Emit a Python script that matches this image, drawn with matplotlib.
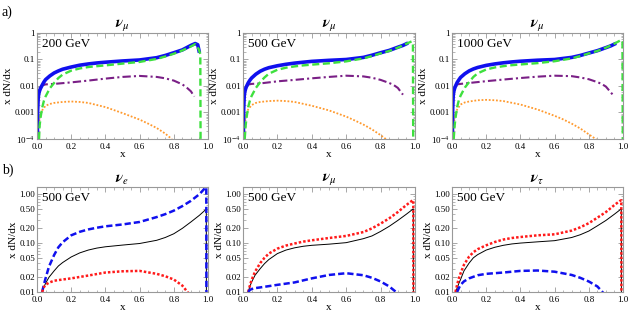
import numpy as np
import matplotlib.pyplot as plt
from matplotlib.ticker import FixedLocator, FixedFormatter, MultipleLocator, LogLocator, NullFormatter

plt.rcParams['font.family'] = ['Liberation Serif', 'DejaVu Serif']
plt.rcParams['mathtext.fontset'] = 'stix'

# ---- panel a) nu_mu spectra at 3 energies ----
energies = ['200 GeV', '500 GeV', '1000 GeV']

# 200 GeV
b1_x = [0.002, 0.004, 0.007, 0.01, 0.015, 0.02, 0.03, 0.04, 0.05, 0.075, 0.1, 0.125, 0.15, 0.2, 0.25, 0.3, 0.35,
        0.4, 0.5, 0.6, 0.7, 0.75, 0.8, 0.85, 0.9, 0.925, 0.94, 0.95]
b1_y = [1e-4, 0.0012, 0.0035, 0.005, 0.0066, 0.008, 0.0107, 0.014, 0.0174, 0.024, 0.031, 0.037, 0.043, 0.052, 0.061,
        0.068, 0.074, 0.079, 0.088, 0.096, 0.117, 0.142, 0.18, 0.23, 0.34, 0.40, 0.36, 0.18]
g1_x = [0.012, 0.015, 0.02, 0.03, 0.04, 0.05, 0.075, 0.1, 0.125, 0.15, 0.2, 0.25, 0.3, 0.35, 0.4, 0.5, 0.6, 0.7,
        0.75, 0.8, 0.85, 0.9, 0.925, 0.945, 0.955, 0.957]
g1_y = [1e-4, 0.0003, 0.0006, 0.0015, 0.0027, 0.004, 0.0082, 0.013, 0.02, 0.027, 0.038, 0.046, 0.052, 0.056, 0.06,
        0.07, 0.081, 0.105, 0.13, 0.165, 0.22, 0.31, 0.38, 0.25, 0.16, 1e-5]
p1_x = [0.02, 0.03, 0.05, 0.1, 0.2, 0.3, 0.4, 0.5, 0.6, 0.7, 0.75, 0.8, 0.85, 0.875, 0.9, 0.92]
p1_y = [0.009, 0.0105, 0.0115, 0.012, 0.0137, 0.016, 0.019, 0.022, 0.024, 0.022, 0.0195, 0.016, 0.0115, 0.0088,
        0.0063, 0.004]
o1_x = [0.005, 0.01, 0.015, 0.02, 0.03, 0.05, 0.075, 0.1, 0.15, 0.2, 0.25, 0.3, 0.4, 0.5, 0.6, 0.65, 0.7, 0.75,
        0.78, 0.8]
o1_y = [1e-4, 0.0004, 0.0006, 0.0008, 0.0012, 0.0018, 0.0021, 0.0023, 0.0025, 0.0026, 0.0025, 0.0023, 0.0016,
        0.00095, 0.00054, 0.00038, 0.00026, 0.00016, 0.00011, 0.00008]

# 500 GeV
b2_x = [0.002, 0.004, 0.007, 0.01, 0.015, 0.02, 0.03, 0.04, 0.05, 0.075, 0.1, 0.125, 0.15, 0.2, 0.25, 0.3, 0.35,
        0.4, 0.5, 0.6, 0.7, 0.75, 0.8, 0.85, 0.9, 0.93, 0.96]
b2_y = [1e-4, 0.0013, 0.004, 0.0058, 0.0078, 0.0095, 0.013, 0.0165, 0.02, 0.028, 0.036, 0.043, 0.049, 0.058, 0.066,
        0.073, 0.079, 0.085, 0.093, 0.1, 0.12, 0.145, 0.18, 0.22, 0.29, 0.34, 0.42]
g2_x = [0.01, 0.015, 0.02, 0.03, 0.04, 0.05, 0.075, 0.1, 0.125, 0.15, 0.2, 0.25, 0.3, 0.35, 0.4, 0.5, 0.6, 0.7,
        0.75, 0.8, 0.85, 0.9, 0.93, 0.96, 0.98, 0.988, 0.99]
g2_y = [1e-4, 0.0003, 0.0006, 0.0016, 0.0028, 0.0042, 0.0085, 0.014, 0.021, 0.029, 0.041, 0.049, 0.055, 0.06, 0.064,
        0.072, 0.085, 0.11, 0.135, 0.17, 0.21, 0.28, 0.34, 0.42, 0.48, 0.4, 1e-5]
p2_x = [0.02, 0.03, 0.05, 0.1, 0.2, 0.3, 0.4, 0.5, 0.6, 0.7, 0.75, 0.8, 0.85, 0.875, 0.9, 0.93]
p2_y = [0.01, 0.0113, 0.012, 0.0125, 0.015, 0.017, 0.0195, 0.022, 0.0245, 0.023, 0.0205, 0.017, 0.013, 0.011,
        0.0085, 0.0047]
o2_x = [0.005, 0.01, 0.015, 0.02, 0.03, 0.05, 0.075, 0.1, 0.15, 0.2, 0.25, 0.3, 0.4, 0.5, 0.6, 0.65, 0.7, 0.75,
        0.8, 0.83, 0.85]
o2_y = [1e-4, 0.0004, 0.0007, 0.0009, 0.0013, 0.0019, 0.0023, 0.0025, 0.0027, 0.0028, 0.0027, 0.0025, 0.0018,
        0.0012, 0.0007, 0.0005, 0.00035, 0.00023, 0.00014, 1e-4, 0.00008]

# 1000 GeV
b3_x = [0.002, 0.004, 0.007, 0.01, 0.015, 0.02, 0.03, 0.04, 0.05, 0.075, 0.1, 0.125, 0.15, 0.2, 0.25, 0.3, 0.35,
        0.4, 0.5, 0.6, 0.7, 0.75, 0.8, 0.85, 0.9, 0.93, 0.96]
b3_y = [1e-4, 0.0014, 0.0042, 0.006, 0.008, 0.0098, 0.0135, 0.017, 0.021, 0.029, 0.037, 0.044, 0.05, 0.06, 0.068,
        0.075, 0.081, 0.086, 0.094, 0.1, 0.12, 0.142, 0.175, 0.215, 0.28, 0.33, 0.41]
g3_x = [0.01, 0.015, 0.02, 0.03, 0.04, 0.05, 0.075, 0.1, 0.125, 0.15, 0.2, 0.25, 0.3, 0.35, 0.4, 0.5, 0.6, 0.7,
        0.75, 0.8, 0.85, 0.9, 0.93, 0.96, 0.99, 0.997, 0.999]
g3_y = [1e-4, 0.0003, 0.0006, 0.0016, 0.0029, 0.0043, 0.0087, 0.014, 0.022, 0.03, 0.042, 0.05, 0.056, 0.061, 0.065,
        0.073, 0.086, 0.11, 0.135, 0.17, 0.21, 0.28, 0.34, 0.43, 0.55, 0.45, 1e-5]
p3_x = [0.02, 0.03, 0.05, 0.1, 0.2, 0.3, 0.4, 0.5, 0.6, 0.7, 0.75, 0.8, 0.85, 0.875, 0.9, 0.94]
p3_y = [0.01, 0.0115, 0.012, 0.013, 0.0152, 0.0175, 0.02, 0.0225, 0.0245, 0.0235, 0.021, 0.018, 0.014, 0.012,
        0.0095, 0.0047]
o3_x = [0.005, 0.01, 0.015, 0.02, 0.03, 0.05, 0.075, 0.1, 0.15, 0.2, 0.25, 0.3, 0.4, 0.5, 0.6, 0.65, 0.7, 0.75,
        0.8, 0.84, 0.86]
o3_y = [1e-4, 0.0004, 0.0007, 0.0009, 0.0013, 0.002, 0.0024, 0.0026, 0.0029, 0.003, 0.0029, 0.0027, 0.002, 0.0013,
        0.00075, 0.00055, 0.00038, 0.00025, 0.00015, 1e-4, 0.00008]

# ---- panel b) 500 GeV, three flavours ----
flavours = [r'$\boldsymbol{\nu}_{e}$', r'$\boldsymbol{\nu}_{\mu}$', r'$\boldsymbol{\nu}_{\tau}$']
xb = [0.03, 0.04, 0.05, 0.07, 0.1, 0.125, 0.15, 0.2, 0.25, 0.3, 0.35, 0.4, 0.5, 0.6, 0.7, 0.75, 0.8, 0.85, 0.9,
      0.95, 0.98, 0.99, 0.991]

blk_e = [0.01, 0.0125, 0.015, 0.02, 0.027, 0.034, 0.04, 0.052, 0.063, 0.072, 0.079, 0.084, 0.091, 0.098, 0.114,
         0.13, 0.155, 0.2, 0.27, 0.37, 0.46, 0.5, 1e-3]
blu_e = [0.01, 0.014, 0.019, 0.033, 0.057, 0.082, 0.104, 0.144, 0.17, 0.19, 0.206, 0.22, 0.24, 0.27, 0.34, 0.39,
         0.46, 0.57, 0.73, 1.0, 1.3, 1.38, 1e-3]
red_e_x = [0.03, 0.04, 0.05, 0.07, 0.1, 0.15, 0.2, 0.3, 0.4, 0.5, 0.6, 0.7, 0.75, 0.8, 0.85, 0.88, 0.9]
red_e = [0.01, 0.0125, 0.014, 0.0155, 0.017, 0.018, 0.019, 0.0217, 0.025, 0.0265, 0.027, 0.0235, 0.021, 0.018,
         0.0135, 0.01, 0.008]

blk_m = [0.01, 0.013, 0.016, 0.022, 0.03, 0.038, 0.046, 0.061, 0.072, 0.08, 0.086, 0.09, 0.095, 0.102, 0.123, 0.14,
         0.173, 0.22, 0.29, 0.39, 0.47, 0.5, 1e-3]
red_m = [0.01, 0.0135, 0.0177, 0.026, 0.039, 0.05, 0.061, 0.077, 0.089, 0.098, 0.107, 0.114, 0.127, 0.14, 0.168,
         0.2, 0.25, 0.32, 0.43, 0.6, 0.72, 0.75, 1e-3]
blu_m_x = [0.03, 0.04, 0.05, 0.07, 0.1, 0.2, 0.3, 0.4, 0.5, 0.6, 0.7, 0.75, 0.8, 0.85, 0.89, 0.91]
blu_m = [0.01, 0.011, 0.0115, 0.012, 0.0124, 0.014, 0.0157, 0.019, 0.0223, 0.0242, 0.022, 0.0195, 0.0164, 0.013,
         0.01, 0.008]

xt = [0.02] + xb
blk_t = [0.01, 0.012, 0.015, 0.018, 0.027, 0.039, 0.05, 0.058, 0.072, 0.082, 0.09, 0.096, 0.1, 0.106, 0.112, 0.13,
         0.148, 0.176, 0.225, 0.29, 0.39, 0.47, 0.5, 1e-3]
red_t = [0.01, 0.014, 0.019, 0.024, 0.036, 0.053, 0.065, 0.075, 0.09, 0.105, 0.118, 0.127, 0.133, 0.144, 0.151,
         0.18, 0.21, 0.255, 0.33, 0.43, 0.6, 0.72, 0.75, 1e-3]
blu_t_x = [0.03, 0.04, 0.05, 0.07, 0.1, 0.15, 0.2, 0.3, 0.4, 0.5, 0.6, 0.7, 0.75, 0.8, 0.85, 0.88, 0.9]
blu_t = [0.01, 0.012, 0.014, 0.0165, 0.019, 0.022, 0.0235, 0.025, 0.027, 0.0275, 0.026, 0.0223, 0.0195, 0.0164,
         0.013, 0.01, 0.008]

BLUE = '#1010ee'
GREEN = '#3ee03e'
PURPLE = '#7a1f86'
ORANGE = '#ff9a2e'
RED = '#ff1a1a'
FRAME = '#999999'


def style_axes(ax):
    for sp in ax.spines.values():
        sp.set_color(FRAME)
        sp.set_linewidth(0.8)
    ax.tick_params(which='both', direction='in', top=True, right=True, color=FRAME,
                   labelsize=6.5)
    ax.tick_params(axis='y', pad=1.5)
    ax.tick_params(axis='x', pad=3)
    ax.tick_params(which='major', length=3.5, width=0.6)
    ax.tick_params(which='minor', length=1.8, width=0.5)
    ax.set_xlim(0, 1)
    ax.xaxis.set_major_locator(MultipleLocator(0.2))
    ax.xaxis.set_minor_locator(MultipleLocator(0.05))
    ax.xaxis.set_major_formatter(plt.FuncFormatter(lambda v, p: f'{v:.1f}'))
    ax.set_xlabel('x', fontsize=8, labelpad=-1)
    ax.set_ylabel('x dN/dx', fontsize=8, labelpad=1)


fig = plt.figure(figsize=(6.36, 3.17), dpi=100)

top_lefts = [37 / 636, 243 / 636, 452 / 636]
w_top = [171 / 636, 172 / 636, 171 / 636]

top_data = [
    (b1_x, b1_y, g1_x, g1_y, p1_x, p1_y, o1_x, o1_y),
    (b2_x, b2_y, g2_x, g2_y, p2_x, p2_y, o2_x, o2_y),
    (b3_x, b3_y, g3_x, g3_y, p3_x, p3_y, o3_x, o3_y),
]

for i in range(3):
    ax = fig.add_axes([top_lefts[i], 1 - 139 / 317, w_top[i], 106 / 317])
    bx, by, gx, gy, px, py, ox, oy = top_data[i]
    ax.set_yscale('log')
    ax.plot(ox, oy, color=ORANGE, lw=1.3, ls=(0, (1, 1)))
    ax.plot(px, py, color=PURPLE, lw=1.5, ls=(0, (4, 1.5, 1, 1.5)))
    ax.plot(bx, by, color=BLUE, lw=2.6, solid_capstyle='butt')
    ax.plot(gx, gy, color=GREEN, lw=1.7, ls=(0, (3, 1.5)))
    ax.set_ylim(1e-4, 1)
    style_axes(ax)
    ax.yaxis.set_major_locator(FixedLocator([1e-4, 1e-3, 1e-2, 1e-1, 1]))
    ax.yaxis.set_major_formatter(FixedFormatter([r'10$^{-4}$', '0.001', '0.01', '0.1', '1']))
    ax.yaxis.set_minor_locator(LogLocator(base=10, subs=np.arange(2, 10)))
    ax.yaxis.set_minor_formatter(NullFormatter())
    ax.set_title(r'$\boldsymbol{\nu}_{\mu}$', fontsize=11, pad=3)
    ax.text(0.03, 0.95, energies[i], transform=ax.transAxes, fontsize=9.5,
            va='top', ha='left')

bot_data = [
    ((xb, blk_e), (xb, blu_e, 'blue'), (red_e_x, red_e, 'red')),
    ((xb, blk_m), (xb, red_m, 'red'), (blu_m_x, blu_m, 'blue')),
    ((xt, blk_t), (xt, red_t, 'red'), (blu_t_x, blu_t, 'blue')),
]

yt = [0.01, 0.02, 0.05, 0.1, 0.2, 0.5, 1.0]
ytl = ['0.01', '0.02', '0.05', '0.10', '0.20', '0.50', '1.00']

for i in range(3):
    ax = fig.add_axes([top_lefts[i], 1 - 292 / 317, w_top[i], 105 / 317])
    ax.set_yscale('log')
    (kx, ky), s1, s2 = bot_data[i]
    ax.plot(kx, ky, color='black', lw=0.7)
    for sx, sy, c in (s1, s2):
        if c == 'blue':
            ax.plot(sx, sy, color=BLUE, lw=1.8, ls=(0, (2.5, 1.2)))
        else:
            ax.plot(sx, sy, color=RED, lw=1.8, ls=(0, (1, 0.8)))
    ax.set_ylim(0.01, 1.4)
    style_axes(ax)
    ax.yaxis.set_major_locator(FixedLocator(yt))
    ax.yaxis.set_major_formatter(FixedFormatter(ytl))
    ax.yaxis.set_minor_locator(FixedLocator([0.03, 0.04, 0.06, 0.07, 0.08, 0.09, 0.3, 0.4, 0.6, 0.7, 0.8, 0.9]))
    ax.yaxis.set_minor_formatter(NullFormatter())
    ax.set_title(flavours[i], fontsize=11, pad=3)
    ax.text(0.03, 0.95, '500 GeV', transform=ax.transAxes, fontsize=9.5,
            va='top', ha='left')

fig.text(2 / 636, 1 - 12 / 317, 'a)', fontsize=10, va='center', ha='left')
fig.text(2 / 636, 1 - 170 / 317, 'b)', fontsize=10, va='center', ha='left')

fig.savefig('out.png', dpi=100)
